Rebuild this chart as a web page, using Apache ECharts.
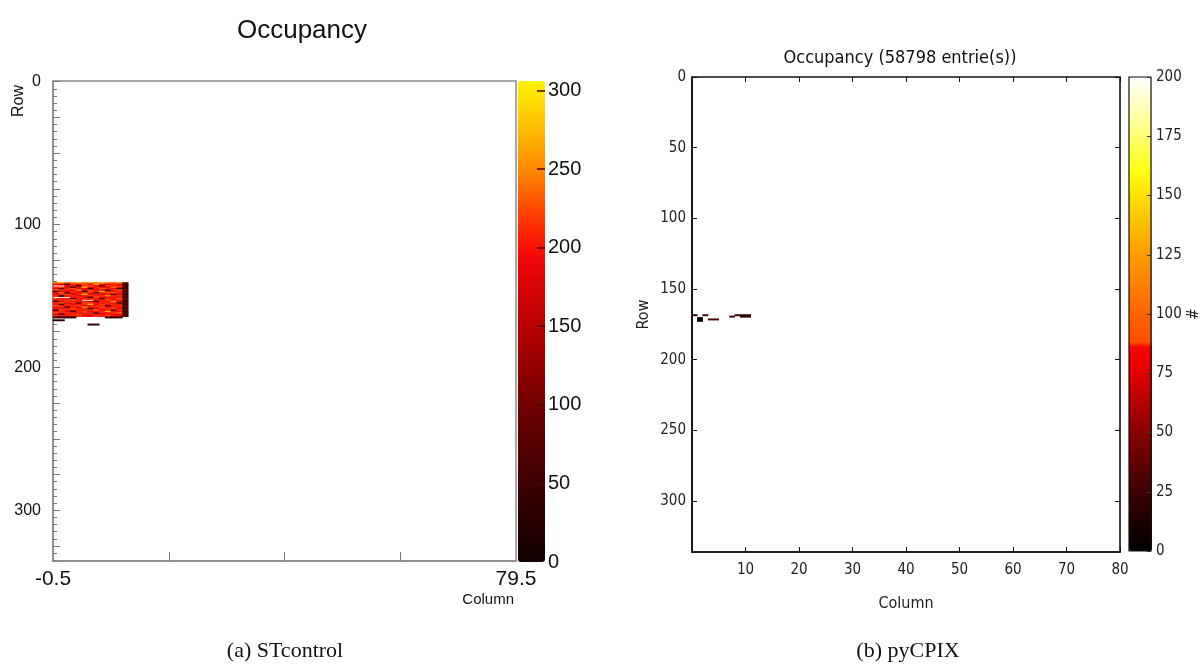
<!DOCTYPE html>
<html>
<head>
<meta charset="utf-8">
<script src="https://cdn.jsdelivr.net/npm/echarts@6/dist/echarts.min.js"></script>
<style>
  html, body { margin: 0; padding: 0; background: #ffffff; }
  #chart { width: 1203px; height: 666px; }
</style>
</head>
<body>
<div id="chart"></div>
<script>
// Pixel matrix of the sensor: 80 columns x 336 rows
const NUM_COLUMNS = 80;
const NUM_ROWS = 336;

// STcontrol occupancy: hit block, one array per row (columns 0..12), starting at row 141
const stFirstRow = 141;
const stBlockRows = [
  [240, 250, 230, 245, 260, 235, 250, 240, 255, 245, 230, 250, 90],
  [200, 180, 60, 210, 190, 220, 170, 260, 200, 190, 210, 180, 50],
  [0, 0, 190, 200, 70, 210, 230, 190, 60, 220, 200, 210, 40],
  [210, 220, 180, 60, 200, 270, 190, 210, 200, 180, 240, 200, 70],
  [190, 60, 210, 230, 180, 200, 50, 200, 230, 210, 190, 60, 40],
  [230, 210, 200, 190, 250, 180, 210, 190, 180, 60, 210, 220, 80],
  [60, 200, 190, 210, 200, 60, 230, 210, 270, 200, 190, 210, 50],
  [200, 230, 60, 200, 190, 210, 200, 60, 200, 220, 230, 200, 60],
  [190, 210, 220, 180, 210, 280, 190, 210, 190, 200, 60, 190, 40],
  [210, 60, 200, 210, 190, 200, 220, 200, 210, 250, 200, 210, 70],
  [0, 0, 0, 200, 210, 190, 60, 230, 200, 190, 210, 200, 50],
  [220, 200, 210, 60, 200, 210, 200, 190, 60, 210, 200, 230, 80],
  [190, 210, 200, 230, 190, 0, 0, 210, 200, 220, 190, 200, 60],
  [60, 190, 220, 200, 210, 200, 190, 60, 210, 200, 260, 190, 40],
  [210, 230, 190, 210, 60, 220, 210, 200, 190, 210, 200, 60, 70],
  [200, 60, 210, 190, 200, 210, 270, 190, 220, 200, 210, 200, 50],
  [230, 200, 200, 210, 220, 190, 200, 210, 200, 60, 190, 210, 60],
  [190, 210, 60, 200, 190, 250, 210, 200, 230, 200, 210, 200, 80],
  [210, 190, 210, 230, 200, 210, 60, 190, 200, 210, 220, 190, 40],
  [60, 220, 200, 190, 210, 200, 210, 230, 190, 200, 60, 210, 70],
  [200, 210, 190, 60, 200, 220, 190, 200, 210, 270, 200, 200, 50],
  [220, 200, 210, 200, 190, 210, 200, 60, 200, 190, 210, 230, 60],
  [190, 60, 200, 210, 230, 190, 210, 200, 190, 210, 200, 190, 40],
  [210, 200, 190, 200, 210, 200, 190, 210, 200, 220, 190, 200, 70]
];
// STcontrol isolated hits below the block: [column, row, hits]
const stStrayHits = [
  [0, 165, 40], [1, 165, 35], [2, 165, 45], [3, 165, 40],
  [9, 165, 40], [10, 165, 35], [11, 165, 45],
  [0, 167, 30], [1, 167, 35],
  [6, 170, 30], [7, 170, 35]
];

// pyCPIX occupancy hits: [column, row, hits]
const pyHits = [
  [0, 168, 20], [1, 170, 8], [1, 171, 5], [1, 172, 10],
  [2, 168, 25], [3, 171, 30], [4, 171, 25],
  [7, 169, 30], [8, 168, 25], [9, 168, 20], [10, 168, 25],
  [9, 169, 15], [10, 169, 20]
];

// Axis tick labels
const stColumnLabels = [-0.5, 79.5];
const stColumnTicks = [19.5, 39.5, 59.5];
const stRowLabels = [0, 100, 200, 300];
const stScaleMax = 306;
const stScaleLabels = [0, 50, 100, 150, 200, 250, 300];

const pyColumnLabels = [10, 20, 30, 40, 50, 60, 70, 80];
const pyRowLabels = [0, 50, 100, 150, 200, 250, 300];
const pyScaleMax = 200;
const pyScaleLabels = [0, 25, 50, 75, 100, 125, 150, 175, 200];

// Colour maps as [value, colour] anchors
const stColorAnchors = [
  [0, '#120000'], [50, '#3e0000'], [100, '#720000'], [150, '#b80000'],
  [195, '#f40808'], [215, '#ff3000'], [250, '#ff8a00'], [280, '#ffc400'], [306, '#fff200']
];
const pyColorAnchors = [
  [0, '#000000'], [25, '#3c0000'], [50, '#880000'], [75, '#e00000'], [86, '#ff0000'],
  [87, '#ff4c00'], [100, '#ff6400'], [125, '#ff9c00'], [150, '#ffe000'],
  [160, '#ffff10'], [180, '#ffff90'], [200, '#ffffff']
];

function hexToRgb(h) {
  return [parseInt(h.slice(1, 3), 16), parseInt(h.slice(3, 5), 16), parseInt(h.slice(5, 7), 16)];
}
// Sample the anchor list into an evenly spaced colour ramp for the visualMap
function buildRamp(anchors, max, n) {
  const out = [];
  for (let i = 0; i < n; i++) {
    const v = max * i / (n - 1);
    let k = 0;
    while (k < anchors.length - 2 && v > anchors[k + 1][0]) k++;
    const v0 = anchors[k][0], v1 = anchors[k + 1][0];
    const a = hexToRgb(anchors[k][1]), b = hexToRgb(anchors[k + 1][1]);
    const t = Math.min(1, Math.max(0, (v - v0) / (v1 - v0)));
    out.push('rgb(' + a.map((x, j) => Math.round(x + (b[j] - x) * t)).join(',') + ')');
  }
  return out;
}

const columnCats = [];
for (let c = 0; c < NUM_COLUMNS; c++) columnCats.push(c);
const rowCats = [];
for (let r = 0; r < NUM_ROWS; r++) rowCats.push(r);

// Heatmap cells [column, row, hits]; empty pixels stay white
const stCells = [];
stBlockRows.forEach((vals, i) => {
  vals.forEach((v, c) => { if (v > 0) stCells.push([c, stFirstRow + i, v]); });
});
stStrayHits.forEach(h => stCells.push(h));

const stRowTicks = [];
for (let r = 0; r <= 335; r += 5) stRowTicks.push(r);
const stRowMajorTicks = [];
for (let r = 0; r <= 335; r += 25) stRowMajorTicks.push(r);

const SANS = "'Liberation Sans', Arial, sans-serif";
const NARROW = "'DejaVu Sans Condensed', 'Liberation Sans Narrow', 'Open Sans', sans-serif";
const SERIF = "'Liberation Serif', 'DejaVu Serif', serif";

const noSplit = { show: false };

const option = {
  backgroundColor: '#ffffff',
  animation: false,
  grid: [
    { left: 53, top: 81, width: 463, height: 480, show: true, borderColor: '#8a8a8a', borderWidth: 1.5 },
    { left: 518, top: 81, width: 27, height: 481, show: false },
    { left: 692, top: 77, width: 428, height: 475, show: true, borderColor: '#111', borderWidth: 1.6 },
    { left: 1129, top: 77, width: 23, height: 474, show: true, borderColor: '#111', borderWidth: 1.2, z: 6 }
  ],
  xAxis: [
    // STcontrol
    { type: 'category', gridIndex: 0, data: columnCats, show: false },
    {
      type: 'value', gridIndex: 0, min: -0.5, max: 79.5, position: 'bottom',
      axisLine: { show: true, onZero: false, lineStyle: { color: '#8a8a8a', width: 1.5 } },
      axisTick: { show: true, inside: true, length: 9, customValues: stColumnTicks, lineStyle: { color: '#777' } },
      axisLabel: { customValues: stColumnLabels, fontSize: 21, fontFamily: SANS, color: '#111', margin: 8 },
      splitLine: noSplit
    },
    { type: 'value', gridIndex: 1, min: 0, max: 1, show: false },
    // pyCPIX
    { type: 'category', gridIndex: 2, data: columnCats, show: false },
    {
      type: 'value', gridIndex: 2, min: 0, max: 80, position: 'bottom',
      name: 'Column', nameLocation: 'middle', nameGap: 44,
      nameTextStyle: { fontSize: 16, fontFamily: NARROW, color: '#222' },
      axisLine: { show: true, onZero: false, lineStyle: { color: '#111', width: 1.6 } },
      axisTick: { show: true, inside: true, length: 5, customValues: pyColumnLabels, lineStyle: { color: '#111' } },
      axisLabel: { customValues: pyColumnLabels, fontSize: 15, fontFamily: NARROW, color: '#222', margin: 11 },
      splitLine: noSplit
    },
    {
      type: 'value', gridIndex: 2, min: 0, max: 80, position: 'top',
      axisLine: { show: false, onZero: false },
      axisTick: { show: true, inside: true, length: 5, customValues: pyColumnLabels, lineStyle: { color: '#111' } },
      axisLabel: { show: false },
      splitLine: noSplit
    },
    { type: 'value', gridIndex: 3, min: 0, max: 1, show: false }
  ],
  yAxis: [
    // STcontrol
    { type: 'category', gridIndex: 0, data: rowCats, inverse: true, show: false },
    {
      type: 'value', gridIndex: 0, min: -0.5, max: 335.5, inverse: true, position: 'left',
      axisLine: { show: true, onZero: false, lineStyle: { color: '#8a8a8a', width: 1.5 } },
      axisTick: { show: true, inside: true, length: 4, customValues: stRowTicks, lineStyle: { color: '#777' } },
      axisLabel: { customValues: stRowLabels, fontSize: 16, fontFamily: SANS, color: '#111', margin: 12 },
      splitLine: noSplit
    },
    {
      type: 'value', gridIndex: 0, min: -0.5, max: 335.5, inverse: true, position: 'left',
      axisLine: { show: false, onZero: false },
      axisTick: { show: true, inside: true, length: 7, customValues: stRowMajorTicks, lineStyle: { color: '#777' } },
      axisLabel: { show: false },
      splitLine: noSplit
    },
    {
      type: 'value', gridIndex: 1, min: 0, max: stScaleMax, position: 'right', z: 6,
      axisLine: { show: false, onZero: false },
      axisTick: { show: true, inside: true, length: 8, customValues: stScaleLabels.slice(1), lineStyle: { color: '#5a0000', width: 1.5 } },
      axisLabel: { customValues: stScaleLabels, fontSize: 20, fontFamily: SANS, color: '#111', margin: 3 },
      splitLine: noSplit
    },
    // pyCPIX
    { type: 'category', gridIndex: 2, data: rowCats, inverse: true, show: false },
    {
      type: 'value', gridIndex: 2, min: 0, max: 336, inverse: true, position: 'left',
      name: 'Row', nameLocation: 'middle', nameGap: 40, nameRotate: 90,
      nameTextStyle: { fontSize: 16, fontFamily: NARROW, color: '#222' },
      axisLine: { show: true, onZero: false, lineStyle: { color: '#111', width: 1.6 } },
      axisTick: { show: true, inside: true, length: 5, customValues: pyRowLabels, lineStyle: { color: '#111' } },
      axisLabel: { customValues: pyRowLabels, fontSize: 15, fontFamily: NARROW, color: '#222', margin: 6 },
      splitLine: noSplit
    },
    {
      type: 'value', gridIndex: 2, min: 0, max: 336, inverse: true, position: 'right',
      axisLine: { show: false, onZero: false },
      axisTick: { show: true, inside: true, length: 5, customValues: pyRowLabels, lineStyle: { color: '#111' } },
      axisLabel: { show: false },
      splitLine: noSplit
    },
    {
      type: 'value', gridIndex: 3, min: 0, max: pyScaleMax, position: 'right', z: 7,
      name: '#', nameLocation: 'middle', nameGap: 36, nameRotate: 90,
      nameTextStyle: { fontSize: 15, fontFamily: NARROW, color: '#222' },
      axisLine: { show: false, onZero: false },
      axisTick: { show: true, inside: true, length: 4, customValues: pyScaleLabels, lineStyle: { color: '#333' } },
      axisLabel: { customValues: pyScaleLabels, fontSize: 15, fontFamily: NARROW, color: '#222', margin: 5 },
      splitLine: noSplit
    }
  ],
  visualMap: [
    {
      type: 'continuous', seriesIndex: 0, min: 0, max: stScaleMax,
      calculable: false, orient: 'vertical', left: 518, top: 81,
      itemWidth: 27, itemHeight: 481, padding: 0, text: null, hoverLink: false,
      inRange: { color: buildRamp(stColorAnchors, stScaleMax, 154) }
    },
    {
      type: 'continuous', seriesIndex: 1, min: 0, max: pyScaleMax,
      calculable: false, orient: 'vertical', left: 1129, top: 77,
      itemWidth: 23, itemHeight: 474, padding: 0, text: null, hoverLink: false,
      inRange: { color: buildRamp(pyColorAnchors, pyScaleMax, 201) }
    }
  ],
  series: [
    {
      name: 'STcontrol', type: 'heatmap', xAxisIndex: 0, yAxisIndex: 0,
      data: stCells, itemStyle: { borderWidth: 0 }, progressive: 0
    },
    {
      name: 'pyCPIX', type: 'heatmap', xAxisIndex: 3, yAxisIndex: 4,
      data: pyHits, itemStyle: { borderWidth: 0 }, progressive: 0
    }
  ],
  graphic: [
    { type: 'text', x: 302, y: 31, style: { text: 'Occupancy', font: '26px ' + SANS, fill: '#111', align: 'center', verticalAlign: 'middle' } },
    { type: 'text', x: 19, y: 101, rotation: Math.PI / 2, style: { text: 'Row', font: '16px ' + SANS, fill: '#111', align: 'center', verticalAlign: 'middle' } },
    { type: 'text', x: 514, y: 600, style: { text: 'Column', font: '15px ' + SANS, fill: '#111', align: 'right', verticalAlign: 'middle' } },
    { type: 'text', x: 900, y: 58, style: { text: 'Occupancy (58798 entrie(s))', font: '18px ' + NARROW, fill: '#111', align: 'center', verticalAlign: 'middle' } },
    { type: 'text', x: 285, y: 651, style: { text: '(a) STcontrol', font: '22px ' + SERIF, fill: '#111', align: 'center', verticalAlign: 'middle' } },
    { type: 'text', x: 908, y: 651, style: { text: '(b) pyCPIX', font: '22px ' + SERIF, fill: '#111', align: 'center', verticalAlign: 'middle' } }
  ]
};

const chart = echarts.init(document.getElementById('chart'), null, { renderer: 'canvas' });
chart.setOption(option);
</script>
</body>
</html>
